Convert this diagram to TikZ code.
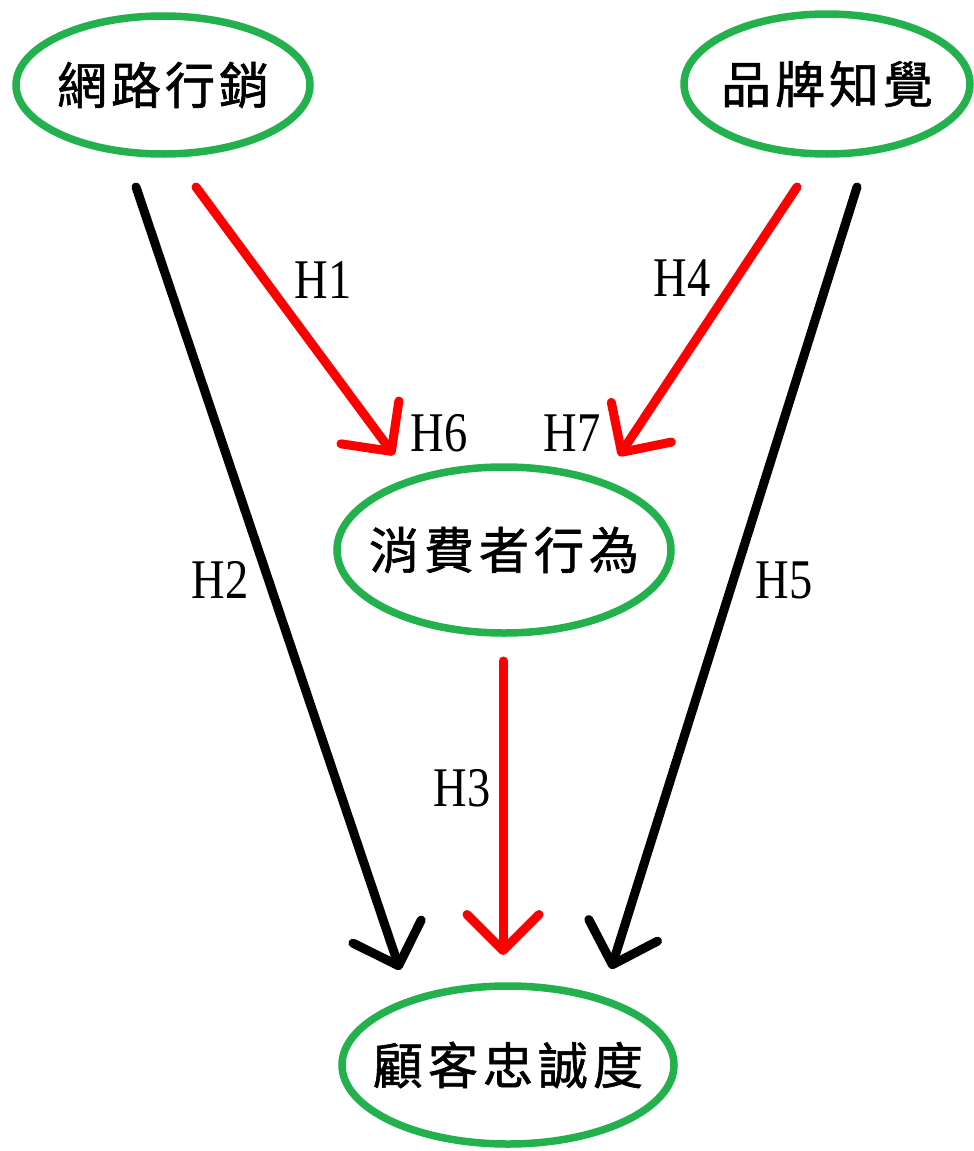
\documentclass[tikz,border=0pt]{standalone}
\usepackage{fontspec}
\usepackage{graphicx}
\setmainfont{Liberation Serif}
\newfontfamily\cjk{Noto Sans CJK TC}[FakeBold=1.2]
\usetikzlibrary{shapes.geometric,arrows.meta}
\definecolor{pgreen}{HTML}{22B14C}
\definecolor{pred}{HTML}{FF0000}
\tikzset{
  var/.style={ellipse, draw=pgreen, line width=7.5pt, inner sep=0pt,
    label={[cjktext]center:#1}},
  cjktext/.style={font=\cjk\fontsize{50}{50}\selectfont, inner sep=0pt},
  link/.style={line width=9pt, line cap=round,
    -{Straight Barb[length=36pt,width=72pt,round]}},
  redlink/.style={link, draw=pred},
  blklink/.style={link, draw=black},
  hyp/.style={font=\fontsize{56}{56}\selectfont, inner sep=0pt}
}
\newcommand\hlab[1]{\scalebox{0.83}[1]{#1}}
\begin{document}
\begin{tikzpicture}[x=1pt,y=-1pt]
\useasboundingbox[fill=white] (0,0) rectangle (974,1151);
% variables
\node[var={網\kern4pt路\kern4pt行\kern4pt銷}, minimum width=294pt, minimum height=138pt] (net) at (163,85) {};
\node[var={品\kern4pt牌\kern4pt知\kern4pt覺}, minimum width=286pt, minimum height=140pt] (brand) at (827,84) {};
\node[var={消\kern5pt費\kern5pt者\kern5pt行\kern5pt為}, minimum width=334pt, minimum height=166pt] (cons) at (504,550) {};
\node[var={顧\kern5pt客\kern5pt忠\kern5pt誠\kern5pt度}, minimum width=332pt, minimum height=158pt] (loyal) at (508,1065) {};
% connector end points
\coordinate (h2s) at (136,187);
\coordinate (h2e) at (400,970);
\coordinate (h1s) at (196,187);
\coordinate (h1e) at (394,455);
\coordinate (h4s) at (797,187);
\coordinate (h4e) at (619,456);
\coordinate (h5s) at (857,187);
\coordinate (h5e) at (611,969);
\coordinate (h3s) at (503,661);
\coordinate (h3e) at (503,955);
% connectors
\draw[blklink] (h2s) -- (h2e);
\draw[redlink] (h1s) -- (h1e);
\draw[redlink] (h4s) -- (h4e);
\draw[blklink] (h5s) -- (h5e);
\draw[redlink] (h3s) -- (h3e);
% labels
\node[hyp] (l1) at (323,280) {\hlab{H1}};
\node[hyp] (l4) at (682,278) {\hlab{H4}};
\node[hyp] (l2) at (220,580) {\hlab{H2}};
\node[hyp] (l5) at (784,580) {\hlab{H5}};
\node[hyp] (l3) at (462,788) {\hlab{H3}};
\node[hyp] (l6) at (439,433) {\hlab{H6}};
\node[hyp] (l7) at (572,433) {\hlab{H7}};
\end{tikzpicture}
\end{document}
